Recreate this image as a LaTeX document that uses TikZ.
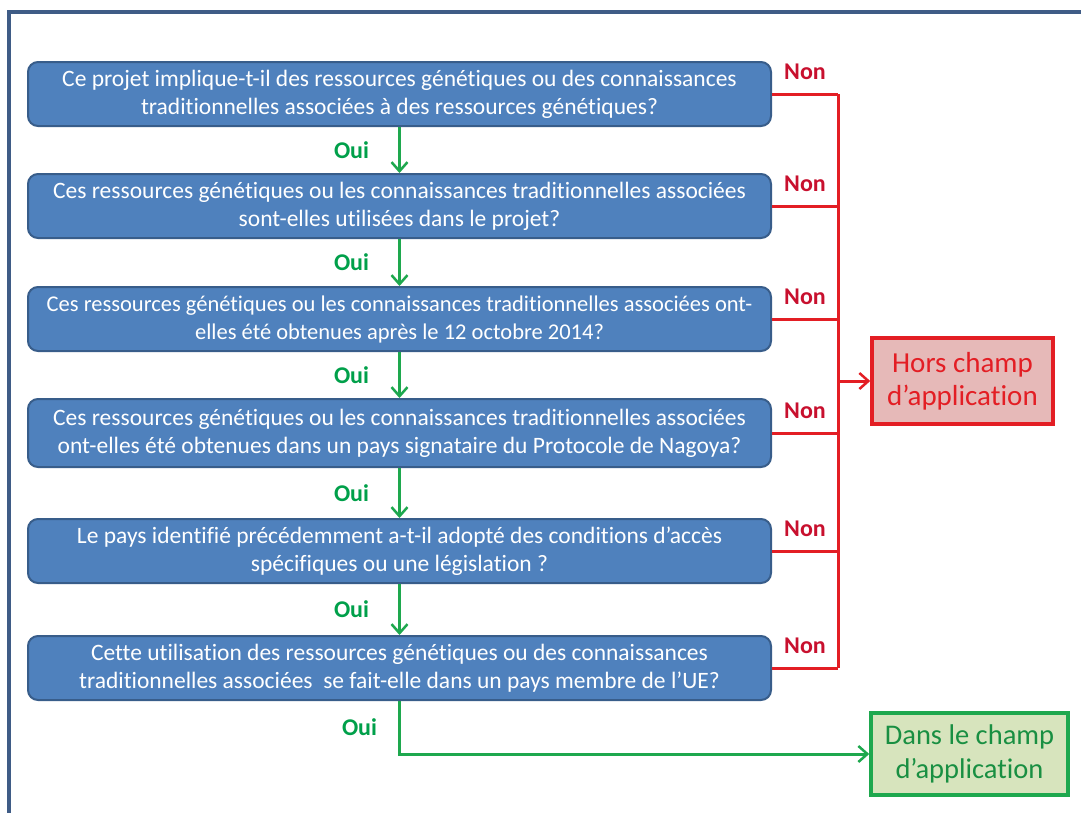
\documentclass[tikz,border=0pt]{standalone}
\usepackage{fontspec}
\setmainfont{Carlito}[Ligatures=NoCommon]
\usetikzlibrary{positioning,arrows.meta}

\definecolor{qfill}{HTML}{4F81BD}
\definecolor{qline}{HTML}{385D8A}
\definecolor{framecol}{HTML}{3F5C86}
\definecolor{nored}{HTML}{E31E24}
\definecolor{notext}{HTML}{C8102E}
\definecolor{outfill}{HTML}{E6B9B8}
\definecolor{yesgreen}{HTML}{1EA84E}
\definecolor{yestext}{HTML}{00A04A}
\definecolor{infill}{HTML}{D7E4BD}

\newcommand*{\xred}{838}

\begin{document}
\begin{tikzpicture}
[
	x=1pt,
	y=-1pt,
	>={Straight Barb[length=9pt,width=16pt,line width=2.5pt]},
	question/.style={draw=qline,fill=qfill,line width=2pt,rounded corners=10pt,
		text=white,align=center,inner sep=0pt,minimum width=743pt,minimum height=64pt,
		font=\fontsize{23.5}{28}\selectfont},
	yes/.style={yesgreen,line width=3pt},
	no/.style={nored,line width=3pt},
	yeslabel/.style={text=yestext,inner sep=0pt,font=\fontsize{24}{28}\selectfont\bfseries},
	nolabel/.style={text=notext,inner sep=0pt,font=\fontsize{24}{28}\selectfont\bfseries},
	outbox/.style={draw=nored,fill=outfill,line width=3.5pt,text=nored,align=center,
		minimum width=181pt,minimum height=86pt,inner sep=0pt,font=\fontsize{29}{33}\selectfont},
	inbox/.style={draw=yesgreen,fill=infill,line width=3.5pt,text=yesgreen!85!black,align=center,
		minimum width=197pt,minimum height=82pt,inner sep=0pt,font=\fontsize{28.5}{34}\selectfont}
]

	% page and frame
	\path[use as bounding box,fill=white] (0,0) rectangle (1081,812);
	\draw[framecol,line width=4pt] (1090,12) -- (9,12) -- (9,820);

	% questions
	\node[question] (q1) at (399.5,94) {Ce projet implique-t-il des ressources génétiques ou des connaissances\\traditionnelles associées à des ressources génétiques?};
	\node[question] (q2) at (399.5,206) {Ces ressources génétiques ou les connaissances traditionnelles associées\\sont-elles utilisées dans le projet?};
	\node[question,font=\fontsize{22.5}{28}\selectfont] (q3) at (399.5,319) {Ces ressources génétiques ou les connaissances traditionnelles associées ont-\\elles été obtenues après le 12 octobre 2014?};
	\node[question,minimum height=68pt] (q4) at (399.5,433) {Ces ressources génétiques ou les connaissances traditionnelles associées\\ont-elles été obtenues dans un pays signataire du Protocole de Nagoya?};
	\node[question] (q5) at (399.5,551) {Le pays identifié précédemment a-t-il adopté des conditions d’accès\\spécifiques ou une législation ?};
	\node[question] (q6) at (399.5,668) {Cette utilisation des ressources génétiques ou des connaissances\\traditionnelles associées\ \ se fait-elle dans un pays membre de l’UE?};

	% outcomes
	\node[outbox] (hors) at (962.5,381) {Hors champ\\d’application};
	\node[inbox] (dans) at (969.5,754) {Dans le champ\\d’application};

	% oui
	\foreach \a/\b in {1/2,2/3,3/4,4/5,5/6} {
		\draw[yes,->] (q\a.south) -- (q\b.north) node[midway,left=29pt,yeslabel] {Oui};
	}
	\draw[yes,->] (q6.south) |- (dans.west) node[pos=0.25,left=21pt,yeslabel] {Oui};

	% non
	\coordinate (red) at (\xred,0);
	\draw[no] (q1.east -| red) -- (q6.east -| red);
	\foreach \q in {1,...,6} {
		\draw[no] (q\q.east) -- (q\q.east -| red) node[midway,above=13pt,nolabel] {Non};
	}
	\draw[no,->] (hors.west -| red) -- (hors.west);

\end{tikzpicture}
\end{document}
